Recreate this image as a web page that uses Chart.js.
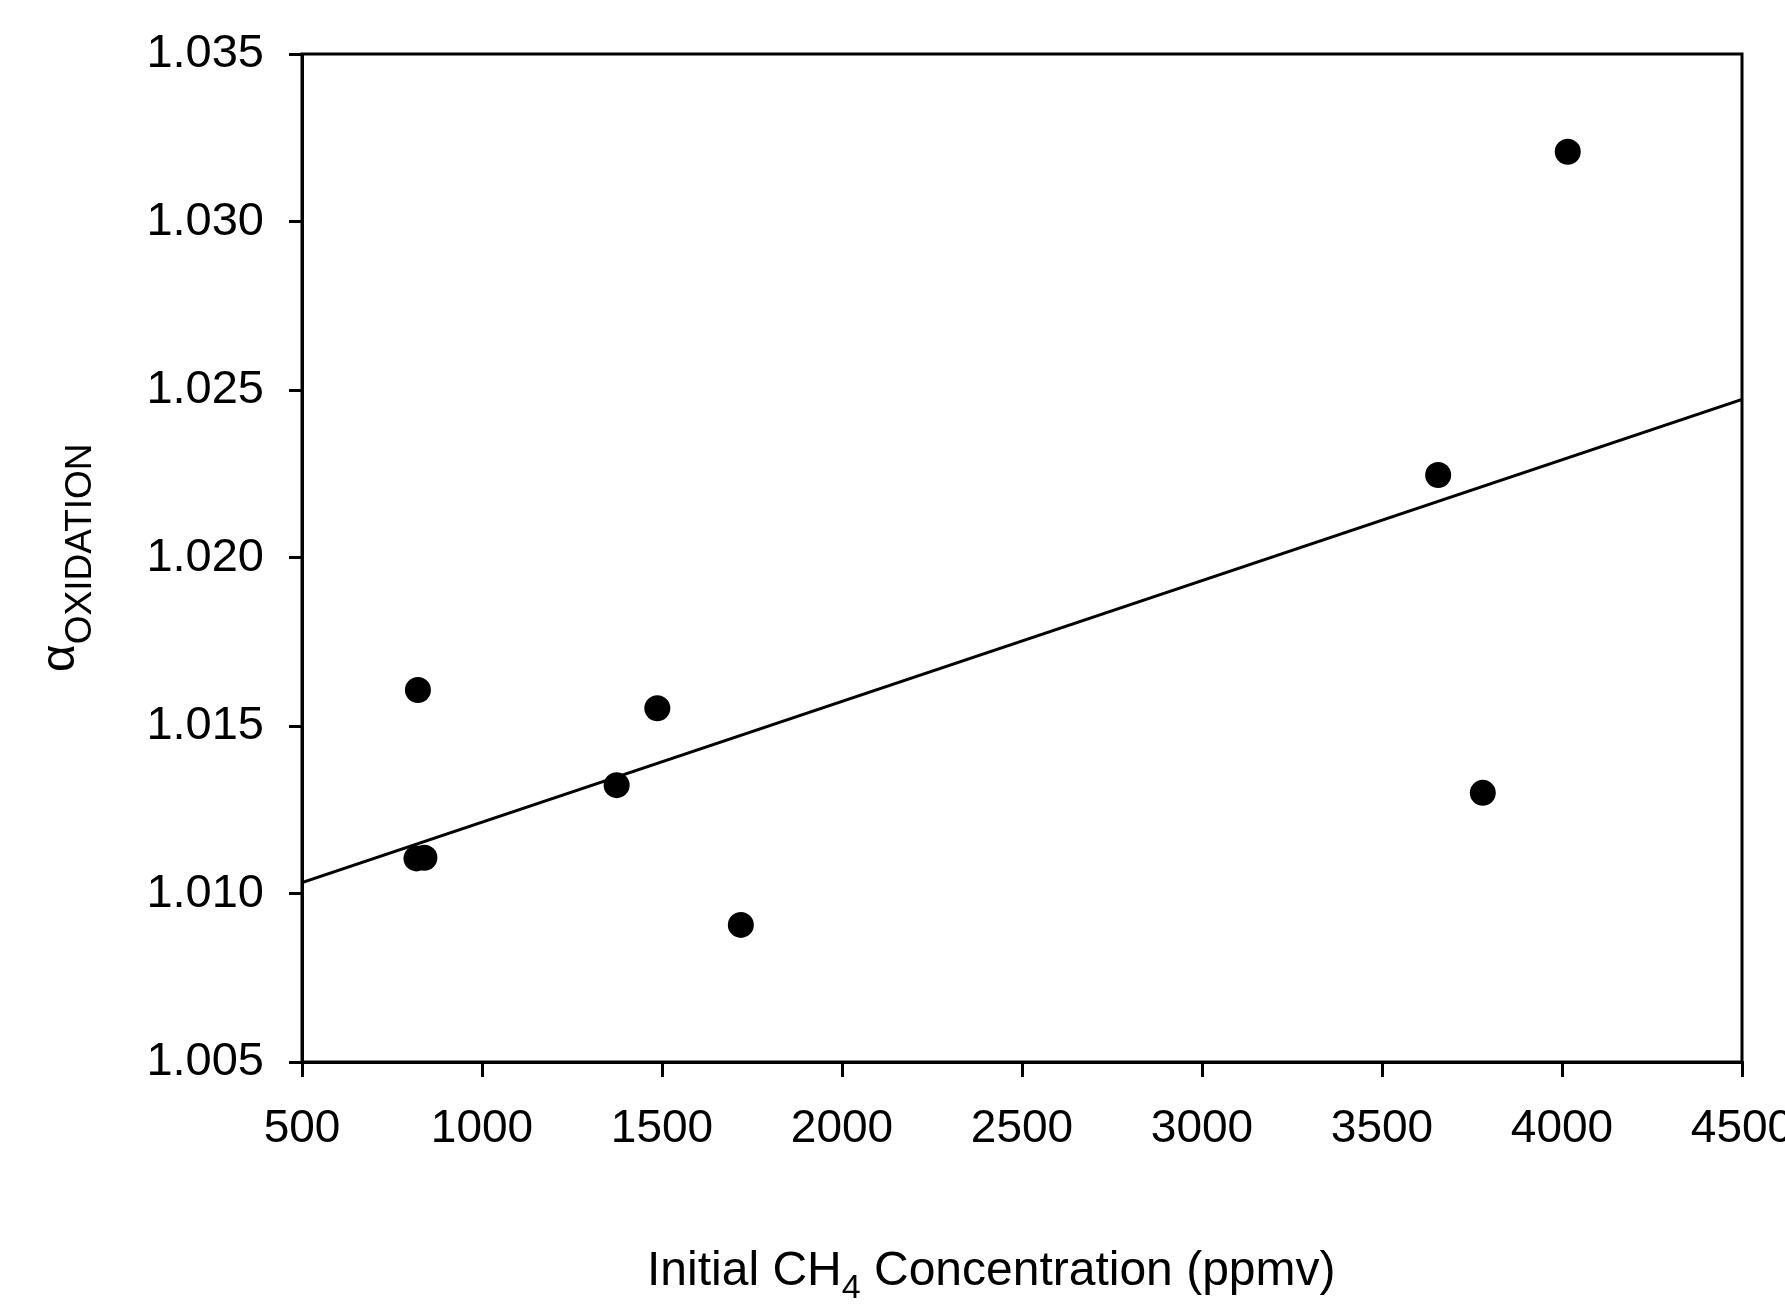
<!DOCTYPE html>
<html>
<head>
<meta charset="utf-8">
<script src="https://cdn.jsdelivr.net/npm/chart.js@4.4.1/dist/chart.umd.min.js"></script>
<style>
  html, body { margin: 0; padding: 0; background: #fff; overflow: hidden; }
  #wrap { width: 1785px; height: 1307px; }
</style>
</head>
<body>
<div id="wrap"><canvas id="chart" width="1785" height="1307"></canvas></div>
<script>
// data
const concentration = [822, 818, 840, 1374, 1487, 1719, 3656, 3780, 4016];
const alphaOx = [1.01607, 1.01106, 1.01108, 1.01324, 1.01553, 1.00908, 1.02247, 1.01301, 1.03209];
const fitX = [500, 4500];
const fitY = [1.01034, 1.02472];

const xTicks = [500, 1000, 1500, 2000, 2500, 3000, 3500, 4000, 4500];
const yTicks = [1.005, 1.010, 1.015, 1.020, 1.025, 1.030, 1.035];

const FONT = "'Liberation Sans', Arial, sans-serif";

// frame around the plot + axis titles with subscripts
const framePlugin = {
  id: "frame",
  afterDraw(chart) {
    const { ctx, chartArea: a } = chart;
    ctx.save();
    ctx.strokeStyle = "#000";
    ctx.lineWidth = 3;
    ctx.strokeRect(a.left, a.top, a.right - a.left, a.bottom - a.top);

    ctx.fillStyle = "#000";
    ctx.textBaseline = "alphabetic";
    ctx.textAlign = "left";

    // x title: Initial CH4 Concentration (ppmv)
    let x = 647, y = 1285;
    ctx.font = "48px " + FONT;
    ctx.fillText("Initial CH", x, y);
    x += ctx.measureText("Initial CH").width;
    ctx.font = "34px " + FONT;
    ctx.fillText("4", x, y + 13);
    x += ctx.measureText("4").width;
    ctx.font = "48px " + FONT;
    ctx.fillText(" Concentration (ppmv)", x, y);

    // y title: alpha OXIDATION (rotated)
    ctx.translate(74, 672);
    ctx.rotate(-Math.PI / 2);
    ctx.font = "48px " + FONT;
    ctx.fillText("\u03B1", 0, 0);
    const w = ctx.measureText("\u03B1").width;
    ctx.font = "37px " + FONT;
    ctx.fillText("OXIDATION", w, 17);
    ctx.restore();
  }
};

new Chart(document.getElementById("chart"), {
  data: {
    datasets: [
      {
        type: "scatter",
        data: concentration.map((v, i) => ({ x: v, y: alphaOx[i] })),
        backgroundColor: "#000",
        borderWidth: 0,
        pointRadius: 13,
        pointHoverRadius: 13,
        order: 1
      },
      {
        type: "line",
        data: fitX.map((v, i) => ({ x: v, y: fitY[i] })),
        borderColor: "#000",
        borderWidth: 3,
        pointRadius: 0,
        fill: false,
        order: 2
      }
    ]
  },
  options: {
    responsive: false,
    animation: false,
    events: [],
    layout: { padding: { top: 54, right: 43, left: 0, bottom: 0 } },
    plugins: { legend: { display: false }, tooltip: { enabled: false } },
    scales: {
      x: {
        type: "linear",
        min: 500,
        max: 4500,
        afterBuildTicks: s => { s.ticks = xTicks.map(v => ({ value: v })); },
        afterFit: s => { s.height = 245; s.paddingLeft = 0; s.paddingRight = 0; },
        ticks: { color: "#000", font: { family: FONT, size: 46 }, padding: 25, maxRotation: 0, autoSkip: false,
                 callback: v => String(v) },
        grid: { drawOnChartArea: false, tickLength: 15, color: "#000", lineWidth: 3 },
        border: { color: "#000", width: 3 }
      },
      y: {
        type: "linear",
        min: 1.005,
        max: 1.035,
        afterBuildTicks: s => { s.ticks = yTicks.map(v => ({ value: v })); },
        afterFit: s => { s.width = 302; s.paddingTop = 0; s.paddingBottom = 0; },
        ticks: { color: "#000", font: { family: FONT, size: 47 }, padding: 25, autoSkip: false,
                 callback: v => v.toFixed(3) },
        grid: { drawOnChartArea: false, tickLength: 13, color: "#000", lineWidth: 3 },
        border: { color: "#000", width: 3 }
      }
    }
  },
  plugins: [framePlugin]
});
</script>
</body>
</html>
